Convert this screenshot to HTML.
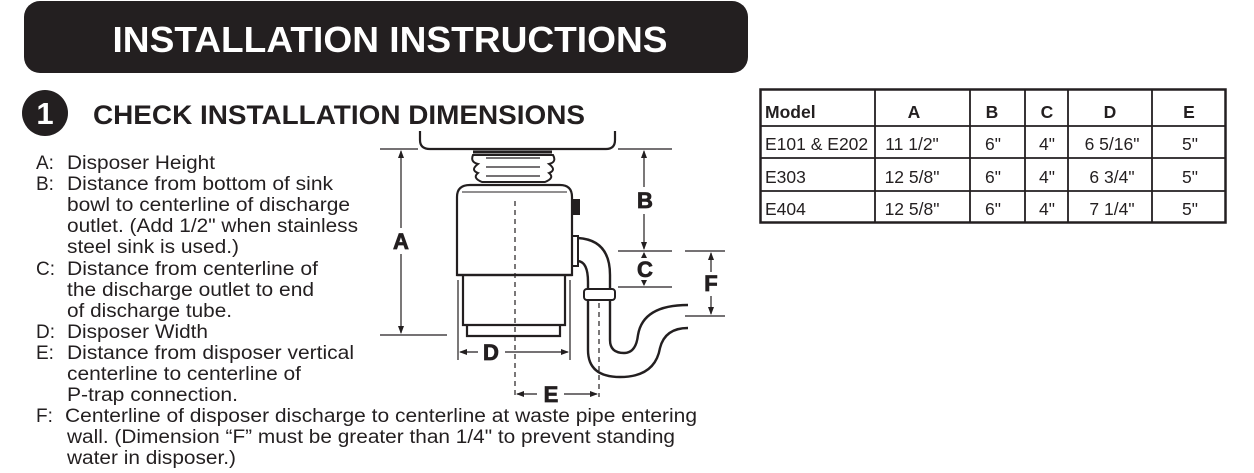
<!DOCTYPE html>
<html><head><meta charset="utf-8"><style>
html,body{margin:0;padding:0;background:#fff;}
svg{display:block;}
text{font-family:"Liberation Sans",Arial,sans-serif;fill:#231f20;}
</style></head><body>
<svg width="1254" height="473" viewBox="0 0 1254 473" xmlns="http://www.w3.org/2000/svg">
<rect x="24" y="1" width="724" height="72" rx="16" fill="#231f20"/>
<text x="390" y="52" font-size="36" font-weight="bold" text-anchor="middle" style="fill:#fff" textLength="555" lengthAdjust="spacingAndGlyphs">INSTALLATION INSTRUCTIONS</text>
<circle cx="45" cy="113" r="23" fill="#231f20"/>
<text x="45" y="124" font-size="31" font-weight="bold" text-anchor="middle" style="fill:#fff">1</text>
<text x="93" y="124" font-size="27" font-weight="bold" textLength="492" lengthAdjust="spacingAndGlyphs">CHECK INSTALLATION DIMENSIONS</text>
<g font-size="19">
<text x="36" y="169">A:</text><text x="67" y="169" textLength="148" lengthAdjust="spacingAndGlyphs">Disposer Height</text>
<text x="36" y="190">B:</text><text x="67" y="190" textLength="266" lengthAdjust="spacingAndGlyphs">Distance from bottom of sink</text>
<text x="67" y="211" textLength="283" lengthAdjust="spacingAndGlyphs">bowl to centerline of discharge</text>
<text x="67" y="232" textLength="291" lengthAdjust="spacingAndGlyphs">outlet. (Add 1/2" when stainless</text>
<text x="67" y="253" textLength="172" lengthAdjust="spacingAndGlyphs">steel sink is used.)</text>
<text x="36" y="275">C:</text><text x="67" y="275" textLength="251" lengthAdjust="spacingAndGlyphs">Distance from centerline of</text>
<text x="67" y="296" textLength="247" lengthAdjust="spacingAndGlyphs">the discharge outlet to end</text>
<text x="67" y="317" textLength="165" lengthAdjust="spacingAndGlyphs">of discharge tube.</text>
<text x="36" y="338">D:</text><text x="67" y="338" textLength="141" lengthAdjust="spacingAndGlyphs">Disposer Width</text>
<text x="36" y="359">E:</text><text x="67" y="359" textLength="287" lengthAdjust="spacingAndGlyphs">Distance from disposer vertical</text>
<text x="67" y="380" textLength="234" lengthAdjust="spacingAndGlyphs">centerline to centerline of</text>
<text x="67" y="401" textLength="171" lengthAdjust="spacingAndGlyphs">P-trap connection.</text>
<text x="36" y="422">F:</text><text x="65" y="422" textLength="632" lengthAdjust="spacingAndGlyphs">Centerline of disposer discharge to centerline at waste pipe entering</text>
<text x="67" y="443" textLength="608" lengthAdjust="spacingAndGlyphs">wall. (Dimension “F” must be greater than 1/4" to prevent standing</text>
<text x="67" y="464" textLength="169" lengthAdjust="spacingAndGlyphs">water in disposer.)</text>
</g>
<!-- table -->
<g stroke="#231f20" fill="none">
<rect x="760.5" y="89.5" width="465" height="133" stroke-width="2.5"/>
<path d="M760 126H1226M760 158H1226M760 191H1226M875 89V223M970 89V223M1025 89V223M1068 89V223M1152 89V223" stroke-width="1.8"/>
</g>
<g font-size="17.5">
<text x="765" y="118" font-weight="bold">Model</text>
<text x="914" y="118" font-weight="bold" text-anchor="middle">A</text>
<text x="992" y="118" font-weight="bold" text-anchor="middle">B</text>
<text x="1047" y="118" font-weight="bold" text-anchor="middle">C</text>
<text x="1110" y="118" font-weight="bold" text-anchor="middle">D</text>
<text x="1189" y="118" font-weight="bold" text-anchor="middle">E</text>
<text x="765" y="150">E101 &amp; E202</text><text x="912" y="150" text-anchor="middle">11 1/2"</text><text x="993" y="150" text-anchor="middle">6"</text><text x="1047" y="150" text-anchor="middle">4"</text><text x="1112" y="150" text-anchor="middle">6 5/16"</text><text x="1190" y="150" text-anchor="middle">5"</text>
<text x="765" y="183">E303</text><text x="912" y="183" text-anchor="middle">12 5/8"</text><text x="993" y="183" text-anchor="middle">6"</text><text x="1047" y="183" text-anchor="middle">4"</text><text x="1112" y="183" text-anchor="middle">6 3/4"</text><text x="1190" y="183" text-anchor="middle">5"</text>
<text x="765" y="215">E404</text><text x="912" y="215" text-anchor="middle">12 5/8"</text><text x="993" y="215" text-anchor="middle">6"</text><text x="1047" y="215" text-anchor="middle">4"</text><text x="1112" y="215" text-anchor="middle">7 1/4"</text><text x="1190" y="215" text-anchor="middle">5"</text>
</g>
<!-- diagram -->
<g stroke="#231f20" fill="none" stroke-width="2">
<path d="M420 131V140Q420 149 430 149H606Q615 149 615 140V131" stroke-width="2.2"/>
<path d="M473 152H552" stroke-width="3"/>
<path d="M473 155Q470 162 478 164Q470 170 478 173Q472 178 482 182H545Q555 178 549 173Q557 170 549 164Q557 162 553 155Z" fill="#fff"/>
<path d="M486 158H540M486 167H540M486 176H540" stroke-width="1.2"/>
<path d="M457 275V197Q457 185 470 185H560Q572 185 572 197V275Z" fill="#fff" stroke-width="2.2"/>
<path d="M462 192H567" stroke-width="1"/>
<path d="M572 200h7v14h-7" stroke-width="2" fill="#231f20"/>
<path d="M457 275H572M463 275V325H565V275" stroke-width="2.2"/>
<path d="M467 325V336H560V325" stroke-width="2.2"/>
<path d="M572 236h6v30h-6" stroke-width="2"/>
<path d="M578 238Q610 240 610 275V340Q610 353 624 353Q636 353 638 335Q643 305 688 305" stroke-width="2.4"/>
<path d="M578 261Q588 262 588 282V350Q588 377 620 377Q655 377 660 348Q665 328 688 328" stroke-width="2.4"/>
<rect x="584" y="289" width="31" height="11" rx="3" fill="#fff" stroke-width="2"/>
<path d="M515 201V397M599 303V397" stroke-width="1.2" stroke-dasharray="5,4"/>
<g stroke-width="1.2">
<path d="M380 149H418M380 335H447"/>
<path d="M401 151V228M401 254V333"/>
<path d="M458 280V360M570 280V360"/>
<path d="M460 352H478M505 352H568"/>
<path d="M517 394H537M564 394H597"/>
<path d="M618 149H672M618 251H672M618 287H672M685 251H725M685 316H725"/>
<path d="M644 151V187M644 214V249M644 253V258M644 281V285M711 253V272M711 296V314"/>
</g>
<g fill="#231f20" stroke="none">
<path d="M401 150l-3 8h6zM401 334l-3-8h6zM459 352l8-3v6zM569 352l-8-3v6zM516 394l8-3v6zM598 394l-8-3v6zM644 150l-3 8h6zM644 250l-3-8h6zM644 252l-3 6h6zM644 286l-3-6h6zM711 252l-3 8h6zM711 315l-3-8h6z"/>
</g>
</g>
<g font-size="22" font-weight="bold" text-anchor="middle" stroke="#231f20" stroke-width="0.8">
<text x="401" y="249">A</text>
<text x="491" y="360">D</text>
<text x="551" y="402">E</text>
<text x="645" y="208">B</text>
<text x="645" y="277">C</text>
<text x="711" y="291">F</text>
</g>
</svg>
</body></html>
